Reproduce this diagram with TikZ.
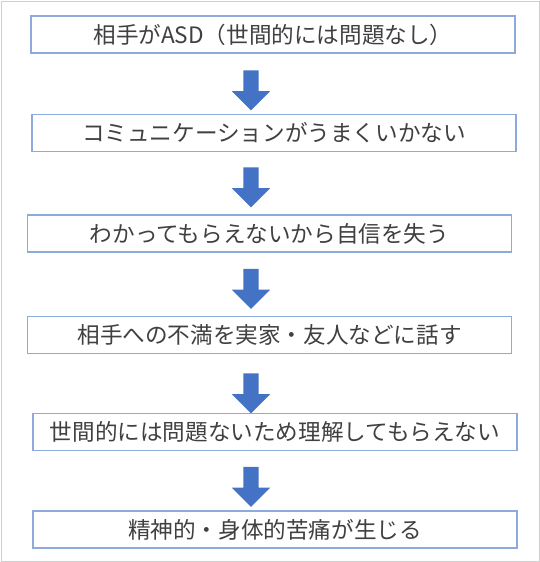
\documentclass[tikz,border=0pt]{standalone}
\usepackage{fontspec}
\setmainfont{Noto Sans CJK JP}
\usetikzlibrary{shapes.arrows}
\definecolor{boxblue}{HTML}{8EA9DB}
\definecolor{arrowblue}{HTML}{4472C4}
\definecolor{textgray}{HTML}{404040}
\definecolor{framegray}{HTML}{CFCFCF}

\begin{document}
\begin{tikzpicture}
  [x=1pt,y=-1pt,
   stepbox/.style={draw=boxblue,line width=1.2pt,fill=white,text=textgray,
     minimum width=484pt,minimum height=37pt,inner sep=0pt,
     font=\fontsize{22.6}{26}\selectfont},
   downarrow/.style={single arrow,fill=arrowblue,draw=none,
     shape border rotate=270,inner xsep=7.5pt,inner ysep=0pt,
     minimum height=40pt,minimum width=38pt,single arrow head extend=11.5pt}]
  \useasboundingbox (0,0) rectangle (540,562);
  \draw[framegray,line width=1pt] (1,1) rectangle (539,561);

  \node[stepbox] (s1) at (273,34.5) {相手がASD（世間的には問題なし）};
  \node[stepbox] (s2) at (274,133) {コミュニケーションがうまくいかない};
  \node[stepbox] (s3) at (269.5,233.5) {わかってもらえないから自信を失う};
  \node[stepbox] (s4) at (269.5,335) {相手への不満を実家・友人などに話す};
  \node[stepbox] (s5) at (275,432) {世間的には問題ないため理解してもらえない};
  \node[stepbox] (s6) at (275,529.5) {精神的・身体的苦痛が生じる};

  \node[downarrow] (a1) at (251,86.5) {};
  \node[downarrow] (a2) at (251,183.5) {};
  \node[downarrow] (a3) at (251,285) {};
  \node[downarrow] (a4) at (251,389.5) {};
  \node[downarrow] (a5) at (251,483) {};

\end{tikzpicture}
\end{document}
